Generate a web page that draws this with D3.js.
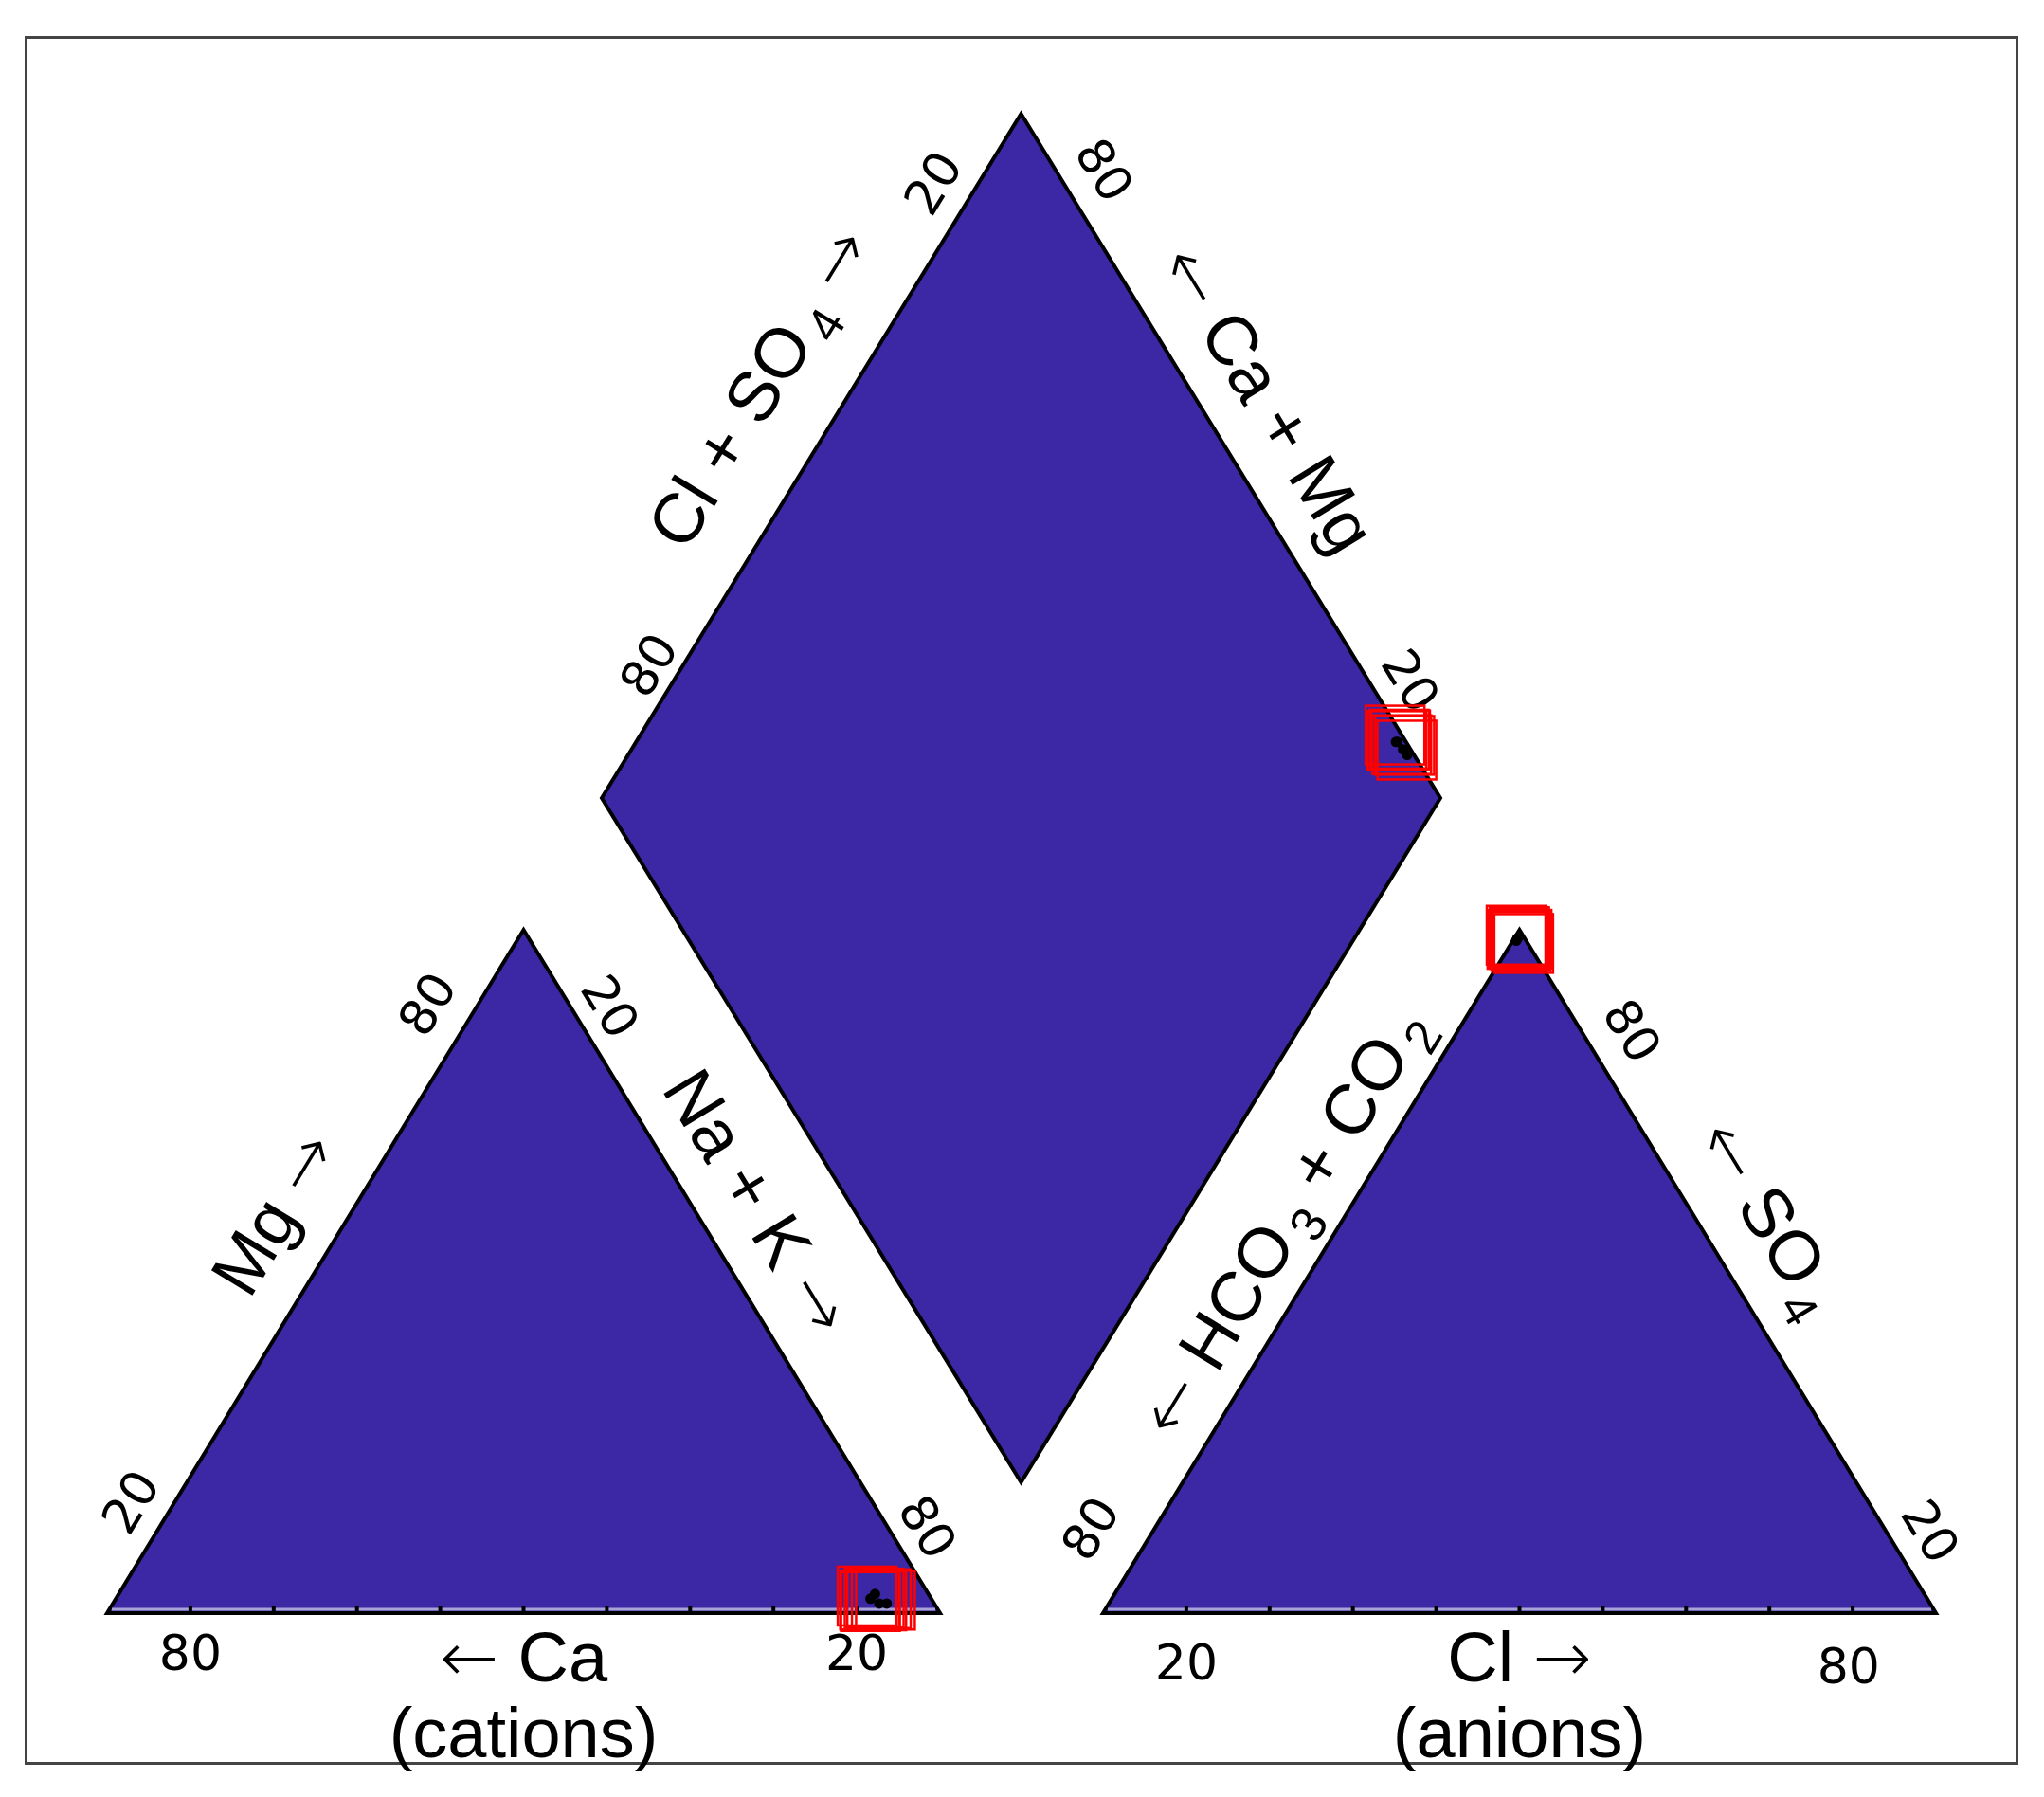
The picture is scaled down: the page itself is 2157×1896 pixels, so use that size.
<!DOCTYPE html>
<html>
<head>
<meta charset="utf-8">
<script src="https://cdn.jsdelivr.net/npm/d3@7"></script>
<style>
  body { margin: 0; background: #fff; }
</style>
</head>
<body>
<svg id="chart"></svg>
<script>
const width = 2157;
const height = 1896;

// samples plotted as black dots (percent of meq)
const dotCa   = [7.3, 6.4, 6.6, 5.7];
const dotMg   = [2.1, 2.8, 1.4, 1.4];
const dotNaK  = [90.6, 90.8, 92.0, 92.9];
const dotHCO3 = [1.2, 1.0, 0.9, 0.8];
const dotSO4  = [98.4, 98.6, 98.7, 98.8];
const dotCl   = [0.4, 0.4, 0.4, 0.4];

// samples flagged with open red squares
const boxCa   = [7.5, 7.5, 7.5, 6.8, 6.7, 6.0, 5.6];
const boxMg   = [2.5, 1.9, 1.7, 2.2, 1.8, 2.1, 1.9];
const boxNaK  = [90.0, 90.6, 90.8, 91.0, 91.5, 91.9, 92.5];
const boxHCO3 = [0.8, 1.0, 0.6, 0.5, 0.7, 0.4, 0.5];
const boxSO4  = [99.2, 98.6, 98.9, 99.0, 98.3, 98.6, 98.0];
const boxCl   = [0.0, 0.4, 0.5, 0.5, 1.0, 1.0, 1.5];

// tick labels as printed along each edge
const cationBaseLabels  = ["80", "20"];
const cationLeftLabels  = ["20", "80"];
const cationRightLabels = ["20", "80"];
const anionBaseLabels   = ["20", "80"];
const anionLeftLabels   = ["80"];
const anionRightLabels  = ["80", "20"];
const diamondLeftLabels  = ["80", "20"];
const diamondRightLabels = ["80", "20"];

const fillColor = "#3c28a5";
const tickFont = "'DejaVu Sans', sans-serif";
const titleFont = "'Liberation Sans', Arial, Helvetica, sans-serif";
const arrowFont = "'DejaVu Sans', sans-serif";

const svg = d3.select("#chart")
    .attr("width", width)
    .attr("height", height);

// frame
svg.append("rect")
    .attr("x", 27.5).attr("y", 39.5)
    .attr("width", 2101).attr("height", 1821)
    .attr("fill", "none")
    .attr("stroke", "#444")
    .attr("stroke-width", 3);

// geometry
const triW = 879, triH = 721, baseY = 1702;
const catLeft = 113, anLeft = 1164;

function triScales(x0) {
    return {
        x: d3.scaleLinear().domain([0, 100]).range([x0, x0 + triW]),
        y: d3.scaleLinear().domain([0, 100]).range([baseY, baseY - triH])
    };
}
const cat = triScales(catLeft);
const an = triScales(anLeft);

// diamond: u = Cl+SO4, v = Na+K
const dX = d3.scaleLinear().domain([0, 200]).range([635, 1520]);
const dY = d3.scaleLinear().domain([-100, 100]).range([120, 1564]);
const diamondPos = (u, v) => [dX(u + v), dY(v - u)];

const catPos = (mg, nak) => [cat.x(nak + mg / 2), cat.y(mg)];
const anPos = (so4, cl) => [an.x(cl + so4 / 2), an.y(so4)];

// corners: bottom-left, bottom-right, top
const catCorners = [catPos(0, 0), catPos(0, 100), catPos(100, 0)];
const anCorners = [anPos(0, 0), anPos(0, 100), anPos(100, 0)];
// left, top, right, bottom
const dCorners = [diamondPos(0, 0), diamondPos(100, 0), diamondPos(100, 100), diamondPos(0, 100)];

const line = d3.line();

function drawShape(pts) {
    svg.append("path")
        .attr("d", line(pts) + "Z")
        .attr("fill", fillColor)
        .attr("stroke", "#000")
        .attr("stroke-width", 4)
        .attr("stroke-linejoin", "miter");
}
drawShape(catCorners);
drawShape(anCorners);
drawShape(dCorners);

// light base line with tick marks
[cat, an].forEach(s => {
    svg.append("line")
        .attr("x1", s.x(0) + 5).attr("x2", s.x(100) - 5)
        .attr("y1", baseY - 4).attr("y2", baseY - 4)
        .attr("stroke", "#a7a3d6")
        .attr("stroke-width", 3);
    svg.selectAll(null)
        .data(s.x.ticks(10).filter(t => t > 0 && t < 100))
        .enter().append("rect")
        .attr("x", d => s.x(d) - 2)
        .attr("y", baseY - 7)
        .attr("width", 4)
        .attr("height", 7)
        .attr("fill", "#000");
});

// place text along an edge p0 -> p1
function edgeText(p0, p1, frac, off, centroid) {
    const dx = p1[0] - p0[0], dy = p1[1] - p0[1];
    const len = Math.hypot(dx, dy);
    const tx = dx / len, ty = dy / len;
    let nx = ty, ny = -tx;
    const mx = p0[0] + dx * frac, my = p0[1] + dy * frac;
    if ((mx - centroid[0]) * nx + (my - centroid[1]) * ny < 0) { nx = -nx; ny = -ny; }
    const angle = Math.atan2(dy, dx) * 180 / Math.PI;
    return {x: mx + nx * off, y: my + ny * off, angle};
}

const centroid = pts => [d3.mean(pts, p => p[0]), d3.mean(pts, p => p[1])];

function addLabel(pos, txt, size, font) {
    return svg.append("text")
        .attr("transform", `translate(${pos.x},${pos.y}) rotate(${pos.angle})`)
        .attr("text-anchor", "middle")
        .attr("dominant-baseline", "central")
        .attr("font-family", font)
        .attr("font-size", size)
        .attr("fill", "#000")
        .text(txt);
}

// title with parts: [[text, kind], ...] kind: "t" text, "s" subscript, "a" arrow
function addTitle(pos, parts, size) {
    const t = svg.append("text")
        .attr("transform", `translate(${pos.x},${pos.y}) rotate(${pos.angle})`)
        .attr("y", size * 0.36)
        .attr("text-anchor", "middle")
        .attr("font-family", titleFont)
        .attr("font-size", size)
        .attr("fill", "#000");
    let shifted = false;
    parts.forEach(([s, kind]) => {
        const sp = t.append("tspan").text(s);
        if (kind === "s") {
            sp.attr("font-size", size * 0.7).attr("dy", size * 0.24).attr("dx", size * 0.1);
            shifted = true;
            return;
        }
        if (shifted) { sp.attr("dy", -size * 0.24); shifted = false; }
        if (kind === "a") {
            sp.attr("font-family", arrowFont).attr("font-weight", 200);
        }
    });
    return t;
}

const tickSize = 52, titleSize = 74;
const L = "\u2190", R = "\u2192";

// cation triangle
const cC = centroid(catCorners);
const [cBL, cBR, cTop] = catCorners;
cationBaseLabels.forEach((lab, i) => {
    addLabel({x: cat.x([10, 90][i]), y: baseY + 42, angle: 0}, lab, tickSize, tickFont);
});
cationLeftLabels.forEach((lab, i) => {
    addLabel(edgeText(cBL, cTop, [0.134, 0.858][i], [40, 46][i], cC), lab, tickSize, tickFont);
});
cationRightLabels.forEach((lab, i) => {
    addLabel(edgeText(cTop, cBR, [0.138, 0.9][i], [36, 36][i], cC), lab, tickSize, tickFont);
});
addTitle(edgeText(cBL, cTop, 0.536, 70, cC), [["Mg ", "t"], [R, "a"]], titleSize);
addTitle(edgeText(cTop, cBR, 0.443, 63, cC), [["Na + K ", "t"], [R, "a"]], titleSize);
addTitle({x: cat.x(50), y: baseY + 45, angle: 0}, [[L, "a"], [" Ca", "t"]], titleSize);
addTitle({x: cat.x(50), y: baseY + 125, angle: 0}, [["(cations)", "t"]], titleSize);

// anion triangle
const aC = centroid(anCorners);
const [aBL, aBR, aTop] = anCorners;
anionBaseLabels.forEach((lab, i) => {
    addLabel({x: an.x([10, 89.5][i]), y: baseY + [52, 56][i], angle: 0}, lab, tickSize, tickFont);
});
anionLeftLabels.forEach((lab, i) => {
    addLabel(edgeText(aBL, aTop, [0.082][i], [58][i], aC), lab, tickSize, tickFont);
});
anionRightLabels.forEach((lab, i) => {
    addLabel(edgeText(aTop, aBR, [0.181, 0.909][i], [46, 40][i], aC), lab, tickSize, tickFont);
});
addTitle(edgeText(aBL, aTop, 0.535, 55, aC),
    [[L, "a"], [" HCO", "t"], ["3", "s"], [" + CO", "t"], ["2", "s"]], titleSize);
addTitle(edgeText(aTop, aBR, 0.47, 70, aC), [[L, "a"], [" SO", "t"], ["4", "s"]], titleSize);
addTitle({x: an.x(50), y: baseY + 45, angle: 0}, [["Cl ", "t"], [R, "a"]], titleSize);
addTitle({x: an.x(50), y: baseY + 125, angle: 0}, [["(anions)", "t"]], titleSize);

// diamond
const dC = centroid(dCorners);
const [dL, dT, dR] = dCorners;
diamondLeftLabels.forEach((lab, i) => {
    addLabel(edgeText(dL, dT, [0.172, 0.869][i], [31, 41][i], dC), lab, tickSize, tickFont);
});
diamondRightLabels.forEach((lab, i) => {
    addLabel(edgeText(dT, dR, [0.114, 0.856][i], [44, 38][i], dC), lab, tickSize, tickFont);
});
addTitle(edgeText(dL, dT, 0.539, 86, dC), [["Cl + SO", "t"], ["4", "s"], [" ", "t"], [R, "a"]], titleSize);
addTitle(edgeText(dT, dR, 0.463, 66, dC), [[L, "a"], [" Ca + Mg", "t"]], titleSize);

// sample dots
const dots = dotCa.map((d, i) => ({
    mg: dotMg[i], nak: dotNaK[i], so4: dotSO4[i], cl: dotCl[i], hco3: dotHCO3[i]
}));
const boxes = boxCa.map((d, i) => ({
    mg: boxMg[i], nak: boxNaK[i], so4: boxSO4[i], cl: boxCl[i], hco3: boxHCO3[i]
}));

const placements = [
    d => catPos(d.mg, d.nak),
    d => anPos(d.so4, d.cl),
    d => diamondPos(100 - d.hco3, d.nak)
];

const boxSize = 62;
placements.forEach(pos => {
    svg.append("g").selectAll("circle")
        .data(dots)
        .enter().append("circle")
        .attr("cx", d => pos(d)[0])
        .attr("cy", d => pos(d)[1])
        .attr("r", 5.5)
        .attr("fill", "#000");

    svg.append("g").selectAll("rect")
        .data(boxes)
        .enter().append("rect")
        .attr("x", d => pos(d)[0] - boxSize / 2)
        .attr("y", d => pos(d)[1] - boxSize / 2)
        .attr("width", boxSize)
        .attr("height", boxSize)
        .attr("fill", "none")
        .attr("stroke", "#ff0000")
        .attr("stroke-width", 2.5);
});
</script>
</body>
</html>
